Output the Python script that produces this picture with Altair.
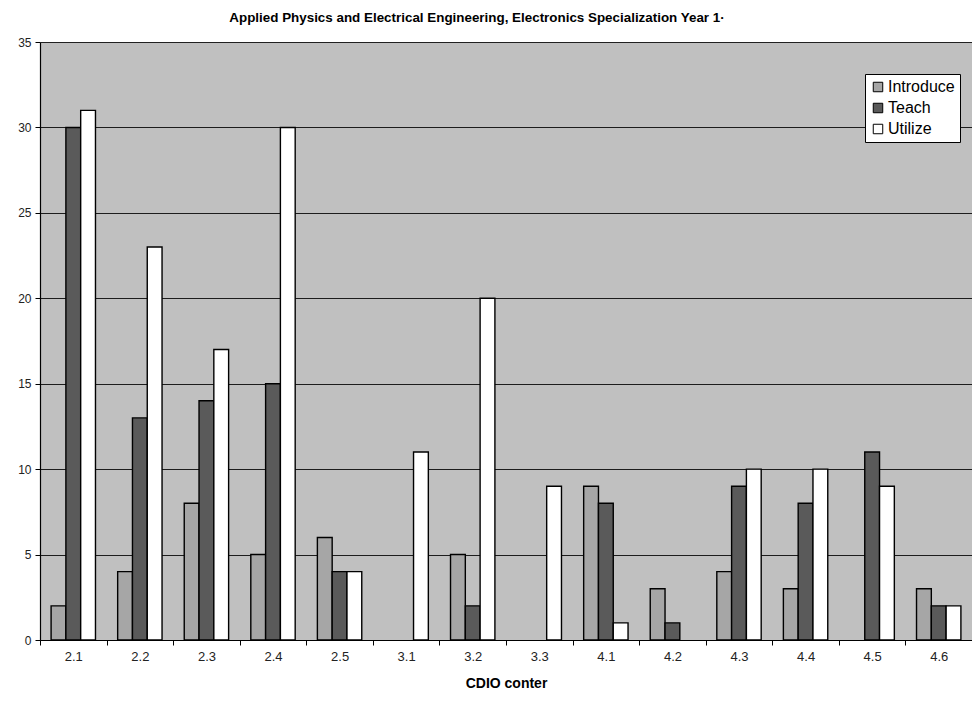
import altair as alt
import pandas as pd

categories = ["2.1", "2.2", "2.3", "2.4", "2.5", "3.1", "3.2", "3.3",
              "4.1", "4.2", "4.3", "4.4", "4.5", "4.6"]
series = ["Introduce", "Teach", "Utilize"]
introduce = [2, 4, 8, 5, 6, 0, 5, 0, 9, 3, 4, 3, 0, 3]
teach = [30, 13, 14, 15, 4, 0, 2, 0, 8, 1, 9, 8, 11, 2]
utilize = [31, 23, 17, 30, 4, 11, 20, 9, 1, 0, 10, 10, 9, 2]
colors = ["#A6A6A6", "#5A5A5A", "#FFFFFF"]

rows = []
for name, vals in zip(series, [introduce, teach, utilize]):
    for c, v in zip(categories, vals):
        rows.append({"cat": c, "series": name, "value": v})
df = pd.DataFrame(rows)

FONT = "Liberation Sans"

chart = (
    alt.Chart(df)
    .transform_filter("datum.value > 0")
    .mark_bar(stroke="black", strokeWidth=1.4)
    .encode(
        x=alt.X(
            "cat:N",
            sort=categories,
            scale=alt.Scale(paddingInner=0, paddingOuter=0),
            axis=alt.Axis(
                title="CDIO conter",
                labelAngle=0,
                tickBand="extent",
                labelFontSize=13,
                labelColor="#222222",
                labelFont=FONT,
                labelPadding=5,
                tickSize=5,
                tickColor="black",
                domainColor="black",
                titleFont=FONT,
                titleFontSize=14,
                titleFontWeight="bold",
                titleColor="black",
                titlePadding=13,
            ),
        ),
        xOffset=alt.XOffset(
            "series:N",
            sort=series,
            scale=alt.Scale(paddingInner=0, paddingOuter=0.75),
        ),
        y=alt.Y(
            "value:Q",
            scale=alt.Scale(domain=[0, 35], nice=False),
            axis=alt.Axis(
                title=None,
                values=[0, 5, 10, 15, 20, 25, 30, 35],
                grid=True,
                gridColor="black",
                gridWidth=1.2,
                gridOpacity=0.85,
                labelFontSize=12,
                labelColor="#222222",
                labelFont=FONT,
                tickSize=5,
                tickColor="black",
                domainColor="black",
                domainWidth=1.2,
                labelPadding=4,
            ),
        ),
        color=alt.Color(
            "series:N",
            sort=series,
            scale=alt.Scale(domain=series, range=colors),
            legend=alt.Legend(
                title=None,
                orient="none",
                legendX=825,
                legendY=32,
                fillColor="white",
                strokeColor="black",
                padding=5,
                labelFont=FONT,
                labelFontSize=16,
                labelColor="black",
                symbolType="square",
                symbolSize=90,
                symbolStrokeColor="black",
                symbolStrokeWidth=1,
                rowPadding=5,
                labelOffset=2,
            ),
        ),
    )
    .properties(
        width=932,
        height=598,
        background="white",
        padding={"left": 32, "top": 34, "right": 0, "bottom": 56},
        autosize=alt.AutoSizeParams(type="none"),
        title=alt.TitleParams(
            "Applied Physics and Electrical Engineering, Electronics Specialization Year 1·",
            font=FONT,
            fontSize=13.4,
            fontWeight="bold",
            color="black",
            anchor="middle",
            dx=-29,
            offset=12,
        ),
    )
    .configure_view(fill="#C0C0C0", stroke="transparent")
)

chart.save("out.html", embed_options={"renderer": "svg", "actions": False})
